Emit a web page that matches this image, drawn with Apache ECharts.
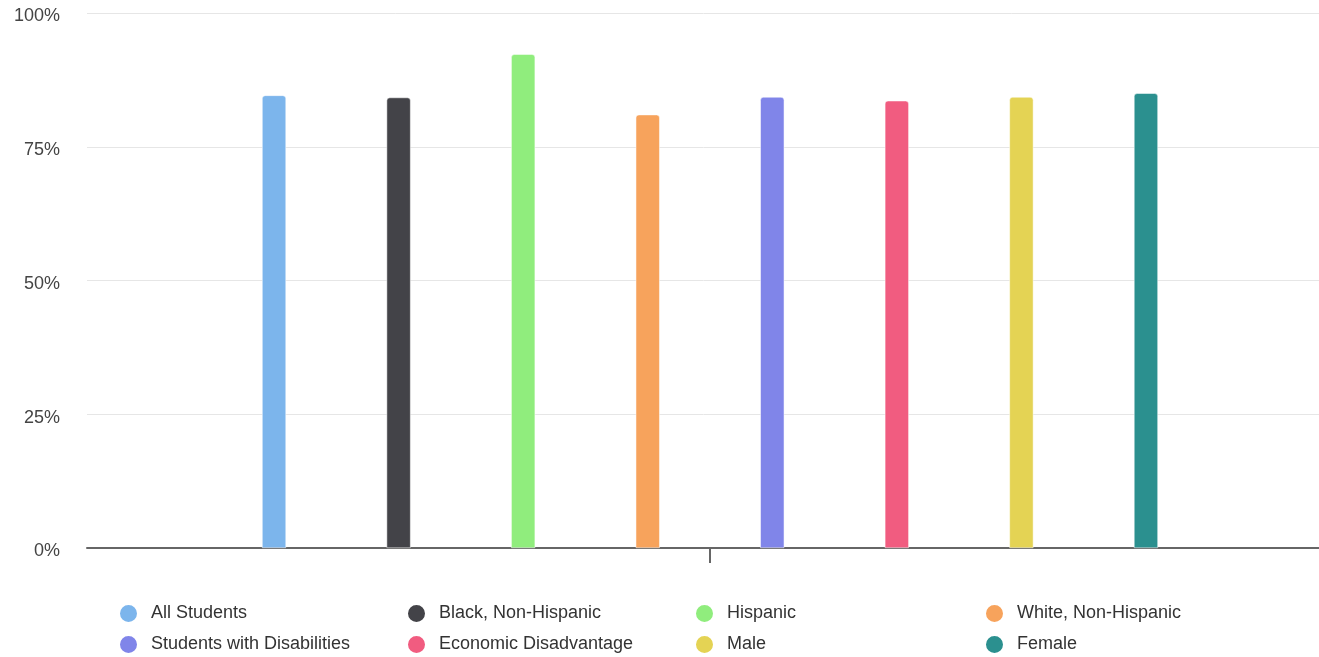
<!DOCTYPE html>
<html>
<head>
<meta charset="utf-8">
<script src="https://cdn.jsdelivr.net/npm/echarts@6/dist/echarts.min.js"></script>
<style>
html,body{margin:0;padding:0;background:#fff;}
#chart{width:1319px;height:657px;}
</style>
</head>
<body>
<div id="chart"></div>
<script>
var categories = [''];
var seriesNames = ['All Students','Black, Non-Hispanic','Hispanic','White, Non-Hispanic','Students with Disabilities','Economic Disadvantage','Male','Female'];
var seriesValues = [84.6, 84.2, 92.3, 81.0, 84.3, 83.6, 84.3, 85.0];
var seriesColors = ['#7cb5ec','#434348','#90ed7d','#f7a35c','#8085e9','#f15c80','#e4d354','#2b908f'];
var yTicks = [0, 25, 50, 75, 100];

var FONT = 'Liberation Sans, Arial, sans-serif';
var chart = echarts.init(document.getElementById('chart'));
var series = seriesNames.map(function(n, i){
  return {
    name: n,
    type: 'bar',
    data: [seriesValues[i]],
    barWidth: 24,
    barGap: '419%',
    itemStyle: {color: seriesColors[i], borderRadius: [3,3,0,0], borderColor: '#fff', borderWidth: 0.5},
    emphasis: {disabled: true}
  };
});
var legendLefts = [118, 406, 694, 984];
var legendTops = [603, 634];
var legends = seriesNames.map(function(n, i){
  return {
    left: legendLefts[i % 4],
    top: legendTops[Math.floor(i / 4)],
    padding: 0,
    itemWidth: 19,
    itemHeight: 19,
    icon: 'circle',
    data: [n],
    textStyle: {fontFamily: FONT, fontSize: 18, color: '#333', padding: [0,0,0,8]}
  };
});
chart.setOption({
  animation: false,
  color: seriesColors,
  grid: {left: 87, right: -14, top: 13, bottom: 109, containLabel: false, outerBoundsMode: 'none'},
  legend: legends,
  xAxis: {
    type: 'category',
    data: categories,
    axisLine: {lineStyle: {color: '#666', width: 2}},
    axisTick: {show: true, alignWithLabel: true, interval: 0, length: 15, lineStyle: {color: '#666', width: 2}},
    axisLabel: {show: true, interval: 0, color: '#444'}
  },
  yAxis: {
    type: 'value',
    min: yTicks[0],
    max: yTicks[yTicks.length-1],
    interval: 25,
    axisLine: {show: false},
    axisTick: {show: false},
    axisLabel: {
      formatter: function(v){ return '{b|}\n{a|' + v + '%}'; },
      margin: 27,
      rich: {
        a: {fontFamily: FONT, fontSize: 18, lineHeight: 20, color: '#444', align: 'right'},
        b: {height: 7, lineHeight: 7, align: 'right'}
      }
    },
    splitLine: {lineStyle: {color: '#e6e6e6', width: 1}}
  },
  series: series
});
</script>
</body>
</html>
